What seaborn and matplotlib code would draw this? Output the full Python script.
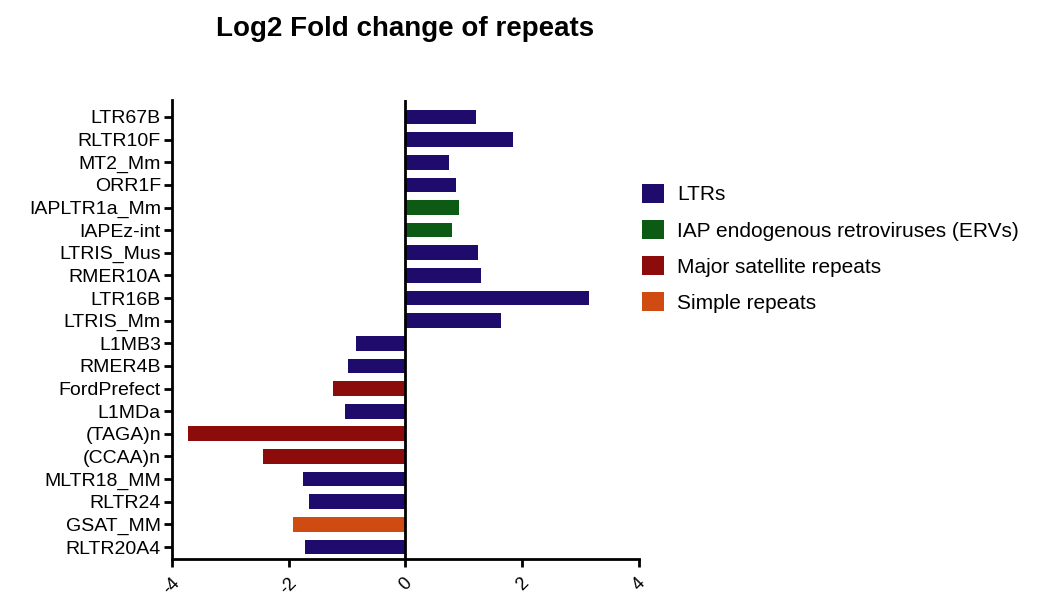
import matplotlib
matplotlib.use("Agg")
import matplotlib.pyplot as plt
from matplotlib.patches import Patch
import seaborn as sns
import pandas as pd

# Repeat families, top to bottom
repeats = [
    "LTR67B", "RLTR10F", "MT2_Mm", "ORR1F", "IAPLTR1a_Mm", "IAPEz-int",
    "LTRIS_Mus", "RMER10A", "LTR16B", "LTRIS_Mm", "L1MB3", "RMER4B",
    "FordPrefect", "L1MDa", "(TAGA)n", "(CCAA)n", "MLTR18_MM", "RLTR24",
    "GSAT_MM", "RLTR20A4",
]
log2fc = [
    1.21, 1.84, 0.74, 0.87, 0.91, 0.79,
    1.25, 1.30, 3.14, 1.63, -0.85, -0.98,
    -1.25, -1.03, -3.72, -2.44, -1.76, -1.66,
    -1.93, -1.72,
]
classes = [
    "LTRs", "LTRs", "LTRs", "LTRs",
    "IAP endogenous retroviruses (ERVs)", "IAP endogenous retroviruses (ERVs)",
    "LTRs", "LTRs", "LTRs", "LTRs", "LTRs", "LTRs",
    "Major satellite repeats", "LTRs",
    "Major satellite repeats", "Major satellite repeats",
    "LTRs", "LTRs", "Simple repeats", "LTRs",
]
class_order = ["LTRs", "IAP endogenous retroviruses (ERVs)",
               "Major satellite repeats", "Simple repeats"]
class_colors = ["#1e0b6c", "#0c5a14", "#8c0b0b", "#cf4b12"]

x_ticks = [-4, -2, 0, 2, 4]
x_tick_labels = ["-4", "-2", "0", "2", "4"]

df = pd.DataFrame({"repeat": repeats, "log2fc": log2fc, "cls": classes})
palette = dict(zip(class_order, class_colors))

sns.set_style("ticks")
plt.rcParams["font.family"] = ["Liberation Sans", "DejaVu Sans"]
plt.rcParams["text.color"] = "black"
plt.rcParams["xtick.color"] = "black"
plt.rcParams["ytick.color"] = "black"

fig = plt.figure(figsize=(10.43, 6.02), dpi=100)
ax = fig.add_axes([172 / 1043, 1 - 559 / 602, (639 - 172) / 1043, (559 - 100) / 602])

sns.barplot(data=df, x="log2fc", y="repeat", hue="cls", hue_order=class_order,
            palette=palette, orient="h", dodge=False, width=0.65,
            order=repeats, legend=False, saturation=1, ax=ax, edgecolor="none")

ax.axvline(0, color="black", lw=2, zorder=3)
ax.set_xlim(-4, 4)
ax.set_ylim(19.53, -0.75)
ax.set_xticks(x_ticks)
ax.set_xticklabels(x_tick_labels, rotation=45, ha="center", va="top", fontsize=13)
ax.tick_params(axis="x", pad=5)
ax.tick_params(axis="y", labelsize=14, pad=2)
ax.tick_params(axis="both", length=6, width=2, color="black", labelcolor="black")
ax.set_xlabel("")
ax.set_ylabel("")
sns.despine(ax=ax)
for side in ("left", "bottom"):
    ax.spines[side].set_linewidth(2)
    ax.spines[side].set_color("black")

ax.set_title("Log2 Fold change of repeats", fontsize=20, fontweight="bold",
             color="black", pad=46)

handles = [Patch(facecolor=c, edgecolor="none") for c in class_colors]
fig.legend(handles, class_order, loc="upper left",
           bbox_to_anchor=(642 / 1043, 1 - 184 / 602), bbox_transform=fig.transFigure,
           frameon=False, fontsize=15, borderpad=0, borderaxespad=0,
           handlelength=1.05, handleheight=1.0, handletextpad=0.65, labelspacing=0.75,
           labelcolor="black")

fig.savefig("out.png", dpi=100, facecolor="white")
